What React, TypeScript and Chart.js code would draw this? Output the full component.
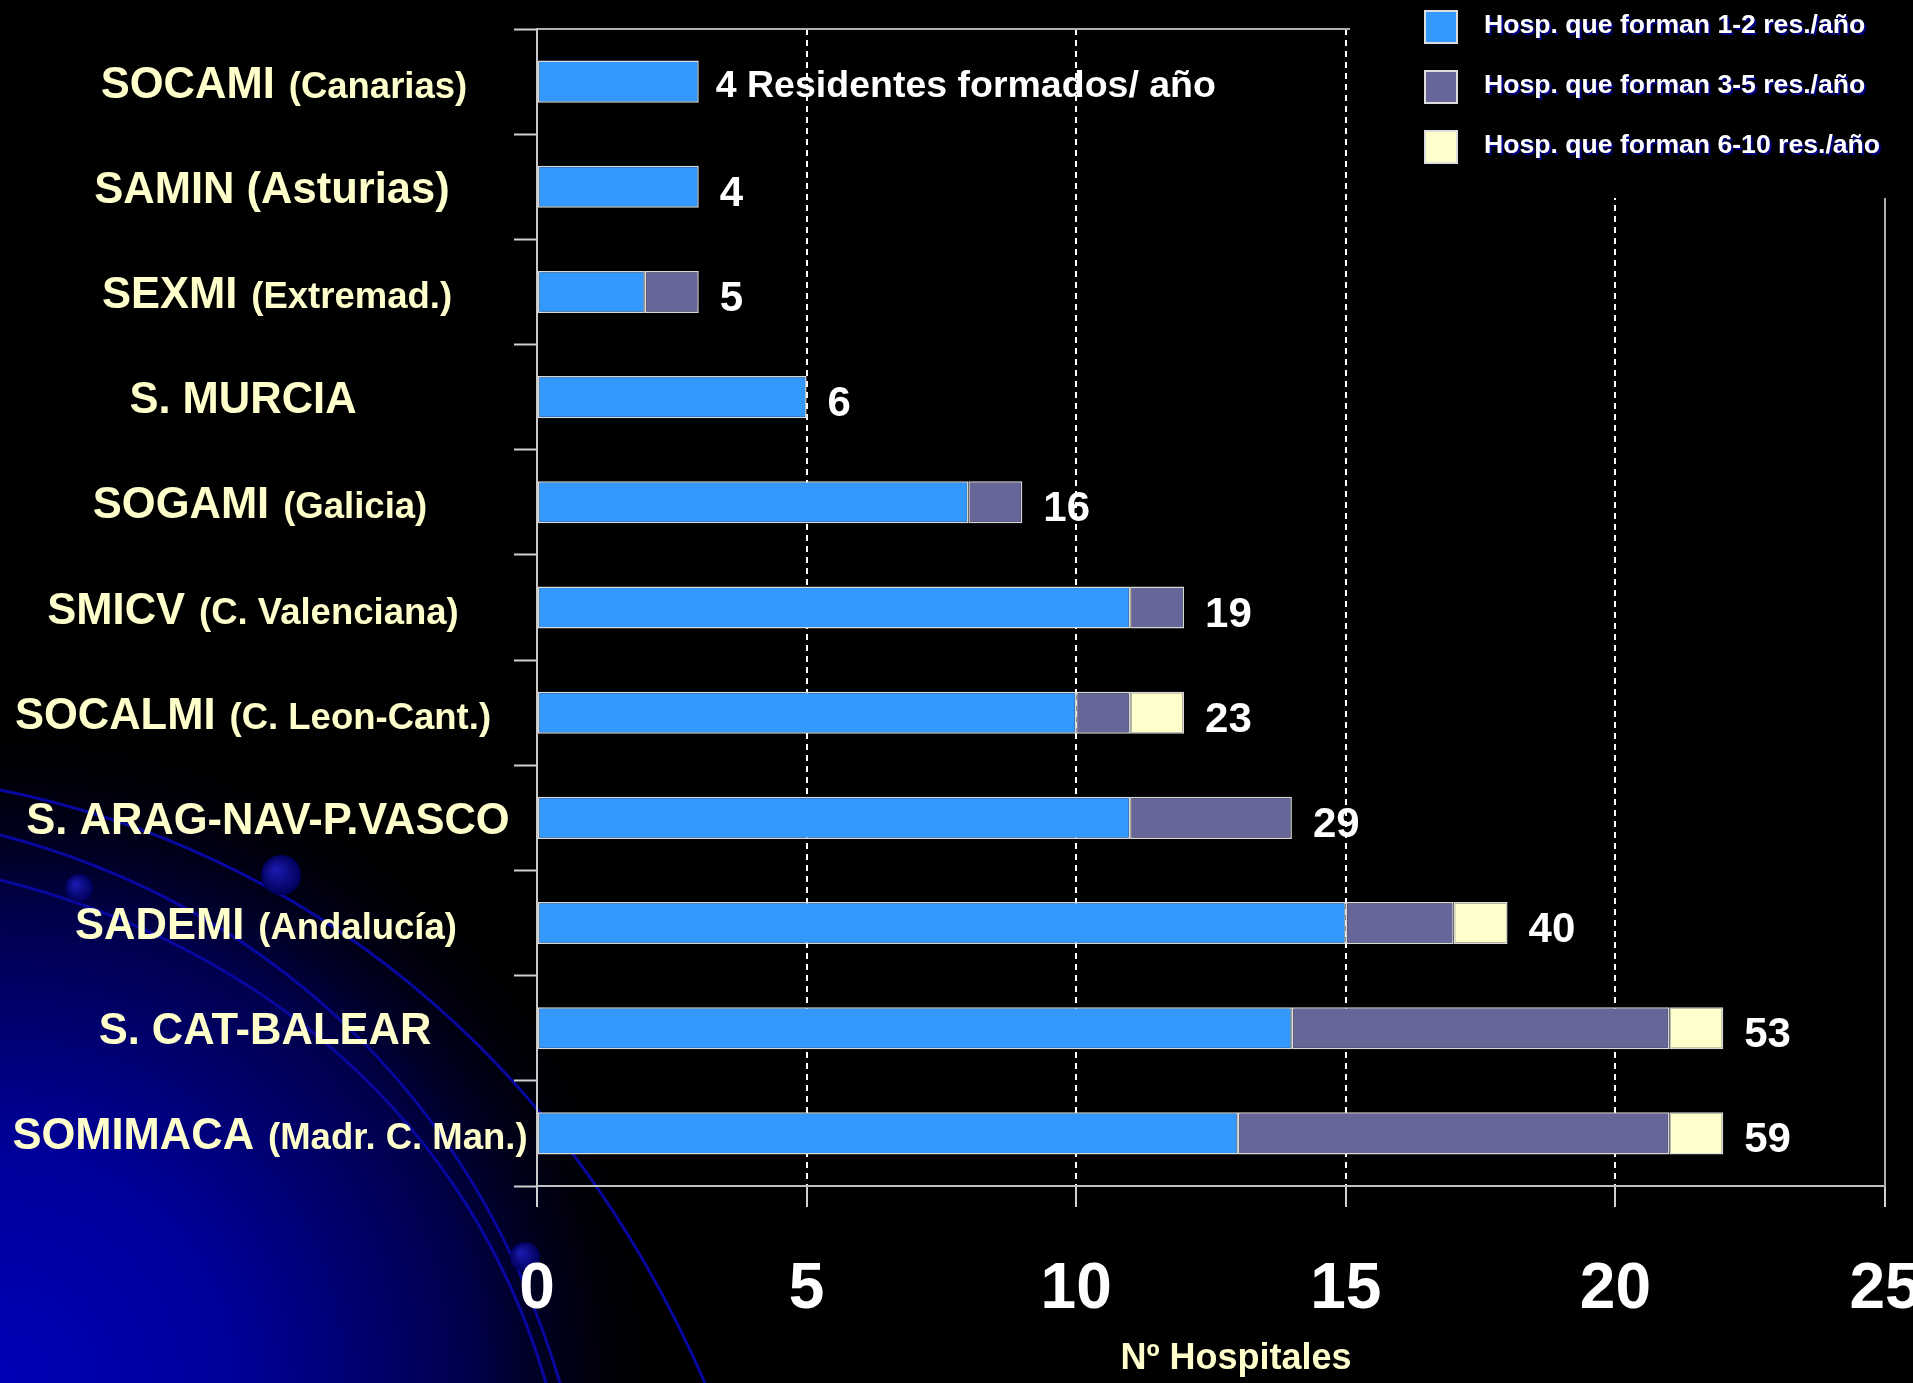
import React, { useEffect, useRef } from 'react';
import { Chart, registerables } from 'chart.js';

Chart.register(...registerables);

const FONT = '"Liberation Sans", Arial, Helvetica, sans-serif';

// ---- data ----
const societies = ['SOCAMI', 'SAMIN (Asturias)', 'SEXMI', 'S. MURCIA', 'SOGAMI', 'SMICV', 'SOCALMI', 'S. ARAG-NAV-P.VASCO', 'SADEMI', 'S. CAT-BALEAR', 'SOMIMACA'];
const regions = ['(Canarias)', '', '(Extremad.)', '', '(Galicia)', '(C. Valenciana)', '(C. Leon-Cant.)', '', '(Andalucía)', '', '(Madr. C. Man.)'];
const hosp1to2 = [3, 3, 2, 5, 8, 11, 10, 11, 15, 14, 13];
const hosp3to5 = [0, 0, 1, 0, 1, 1, 1, 3, 2, 7, 8];
const hosp6to10 = [0, 0, 0, 0, 0, 0, 1, 0, 1, 1, 1];
const residentLabels = ['4 Residentes formados/ año', '4', '5', '6', '16', '19', '23', '29', '40', '53', '59'];
const seriesLabels = ['Hosp. que forman 1-2 res./año', 'Hosp. que forman 3-5 res./año', 'Hosp. que forman 6-10 res./año'];
const xTicks = [0, 5, 10, 15, 20, 25];
const xAxisTitle = 'Nº Hospitales';

const categories = societies.map((s, i) => (regions[i] ? s + ' ' + regions[i] : s));

// layout: horizontal centre of each category label, measured from the plot's left edge
const labelCentreOffsets = [-253, -265, -260, -294, -277, -284, -284, -269, -271, -272, -267];

const bgPlugin = {
  id: 'slideBackground',
  beforeDraw(chart: any) {
    const { ctx, width, height } = chart;
    ctx.save();
    ctx.fillStyle = '#000000';
    ctx.fillRect(0, 0, width, height);
    const g = ctx.createRadialGradient(0, height, 0, 0, height, 680);
    g.addColorStop(0, '#0000b8');
    g.addColorStop(0.35, '#000098');
    g.addColorStop(0.7, '#00004a');
    g.addColorStop(1, 'rgba(0,0,0,0)');
    ctx.fillStyle = g;
    ctx.fillRect(0, height - 700, 700, 700);
    ctx.strokeStyle = '#0808a0';
    ctx.lineWidth = 3;
    const curves = [
      [0, 790, 300, 850, 560, 1050, 705, 1383],
      [0, 835, 250, 900, 470, 1080, 560, 1383],
      [0, 880, 260, 945, 470, 1120, 546, 1383],
    ];
    curves.forEach((c) => {
      ctx.beginPath();
      ctx.moveTo(c[0], c[1]);
      ctx.bezierCurveTo(c[2], c[3], c[4], c[5], c[6], c[7]);
      ctx.stroke();
    });
    const dots = [[79, 888, 14], [281, 875, 20], [525, 1257, 15]];
    dots.forEach(([x, y, r]) => {
      const rg = ctx.createRadialGradient(x - r * 0.3, y - r * 0.3, 1, x, y, r);
      rg.addColorStop(0, '#1a1ab0');
      rg.addColorStop(1, '#00005a');
      ctx.fillStyle = rg;
      ctx.beginPath();
      ctx.arc(x, y, r, 0, Math.PI * 2);
      ctx.fill();
    });
    ctx.restore();
  },
};

const annotationPlugin = {
  id: 'residentLabels',
  afterDatasetsDraw(chart: any) {
    const { ctx } = chart;
    const meta = chart.getDatasetMeta(chart.data.datasets.length - 1);
    ctx.save();
    ctx.fillStyle = '#ffffff';
    ctx.textAlign = 'left';
    ctx.textBaseline = 'alphabetic';
    meta.data.forEach((el: any, i: number) => {
      const txt = residentLabels[i];
      const long = txt.length > 3;
      ctx.font = `bold ${long ? 37.5 : 42}px ${FONT}`;
      ctx.fillText(txt, el.x + (long ? 17 : 21), el.y + (long ? 15 : 19));
    });
    ctx.restore();
  },
};

const categoryLabelPlugin = {
  id: 'categoryLabels',
  afterDraw(chart: any) {
    const { ctx, chartArea } = chart;
    const yScale = chart.scales.y;
    ctx.save();
    ctx.fillStyle = '#ffffcc';
    ctx.textAlign = 'left';
    ctx.textBaseline = 'alphabetic';
    societies.forEach((s, i) => {
      const cx = chartArea.left + labelCentreOffsets[i];
      const y = yScale.getPixelForValue(i) + 16;
      ctx.font = `bold 43.5px ${FONT}`;
      const w1 = ctx.measureText(s).width;
      let w2 = 0;
      const gap = regions[i] ? 14 : 0;
      if (regions[i]) {
        ctx.font = `bold 36.5px ${FONT}`;
        w2 = ctx.measureText(regions[i]).width;
      }
      const x0 = cx - (w1 + gap + w2) / 2;
      ctx.font = `bold 43.5px ${FONT}`;
      ctx.fillText(s, x0, y);
      if (regions[i]) {
        ctx.font = `bold 36.5px ${FONT}`;
        ctx.fillText(regions[i], x0 + w1 + gap, y);
      }
    });
    // axis title
    ctx.font = `bold 36px ${FONT}`;
    ctx.textAlign = 'center';
    ctx.fillText(xAxisTitle, (chartArea.left + chartArea.right) / 2 + 25, 1369);
    ctx.restore();
  },
};

const legendPlugin = {
  id: 'slideLegend',
  afterDraw(chart: any) {
    const { ctx, width } = chart;
    ctx.save();
    ctx.fillStyle = '#000000';
    ctx.fillRect(1350, 0, width - 1350, 198);
    chart.data.datasets.forEach((ds: any, i: number) => {
      const top = 11 + i * 60;
      ctx.fillStyle = ds.backgroundColor;
      ctx.fillRect(1425, top, 32, 32);
      ctx.strokeStyle = '#dddddd';
      ctx.lineWidth = 2;
      ctx.strokeRect(1425, top, 32, 32);
      ctx.font = `bold 26.6px ${FONT}`;
      ctx.textAlign = 'left';
      ctx.textBaseline = 'alphabetic';
      ctx.shadowColor = '#000080';
      ctx.shadowOffsetX = 2;
      ctx.shadowOffsetY = 2;
      ctx.shadowBlur = 0;
      ctx.fillStyle = '#ffffff';
      ctx.fillText(ds.label, 1484, top + 21.5);
      ctx.shadowColor = 'rgba(0,0,0,0)';
      ctx.shadowOffsetX = 0;
      ctx.shadowOffsetY = 0;
    });
    ctx.restore();
  },
};

export default function App() {
  const ref = useRef<HTMLCanvasElement>(null);
  useEffect(() => {
    if (!ref.current) return;
    const barCommon = {
      barPercentage: 0.4,
      categoryPercentage: 1,
      borderWidth: 1.5,
      borderColor: '#d9d9d9',
      borderSkipped: false,
    };
    const chart = new Chart(ref.current, {
      type: 'bar',
      data: {
        labels: categories,
        datasets: [
          { label: seriesLabels[0], data: hosp1to2, backgroundColor: '#3399ff', ...barCommon },
          { label: seriesLabels[1], data: hosp3to5, backgroundColor: '#666699', ...barCommon },
          { label: seriesLabels[2], data: hosp6to10, backgroundColor: '#ffffcc', ...barCommon },
        ],
      },
      options: {
        indexAxis: 'y',
        responsive: false,
        maintainAspectRatio: false,
        animation: false,
        devicePixelRatio: 1,
        layout: { padding: 0 },
        plugins: { legend: { display: false }, tooltip: { enabled: false } },
        scales: {
          x: {
            type: 'linear',
            stacked: true,
            position: 'bottom',
            min: 0,
            max: 25,
            afterBuildTicks: (s: any) => {
              s.ticks = xTicks.map((v) => ({ value: v }));
            },
            ticks: {
              color: '#ffffff',
              font: { size: 64, weight: 'bold', family: FONT },
              padding: 45,
              maxRotation: 0,
              autoSkip: false,
            },
            grid: {
              color: (c: any) =>
                c.tick && (c.tick.value === 0 || c.tick.value === 25) ? 'rgba(0,0,0,0)' : '#ffffff',
              lineWidth: 2,
              tickLength: 21,
              tickColor: '#d0d0d0',
              tickWidth: 2,
            },
            border: { display: true, color: '#c0c0c0', width: 2, dash: [6, 5] },
            afterFit: (s: any) => {
              s.height = 197;
              s.paddingLeft = 0;
              s.paddingRight = 0;
            },
          },
          x2: {
            type: 'linear',
            position: 'top',
            min: 0,
            max: 25,
            ticks: { display: false },
            grid: { display: false },
            border: { display: true, color: '#b0b0b0', width: 2 },
            afterFit: (s: any) => {
              s.height = 29;
              s.paddingLeft = 0;
              s.paddingRight = 0;
            },
          },
          y: {
            type: 'category',
            stacked: true,
            position: 'left',
            ticks: { display: false },
            grid: {
              display: true,
              drawOnChartArea: false,
              offset: true,
              tickLength: 23,
              color: '#d0d0d0',
              tickColor: '#d0d0d0',
              tickWidth: 2,
            },
            border: { display: true, color: '#c8c8c8', width: 2 },
            afterFit: (s: any) => {
              s.width = 537;
            },
          },
          y2: {
            type: 'linear',
            position: 'right',
            ticks: { display: false },
            grid: { display: false },
            border: { display: true, color: '#b0b0b0', width: 2 },
            afterFit: (s: any) => {
              s.width = 28;
            },
          },
        },
      } as any,
      plugins: [bgPlugin, annotationPlugin, categoryLabelPlugin, legendPlugin],
    });
    return () => chart.destroy();
  }, []);
  return (
    <div style={{ position: 'absolute', left: 0, top: 0, width: 1913, height: 1383, background: '#000' }}>
      <canvas ref={ref} width={1913} height={1383} style={{ display: 'block' }} />
    </div>
  );
}
